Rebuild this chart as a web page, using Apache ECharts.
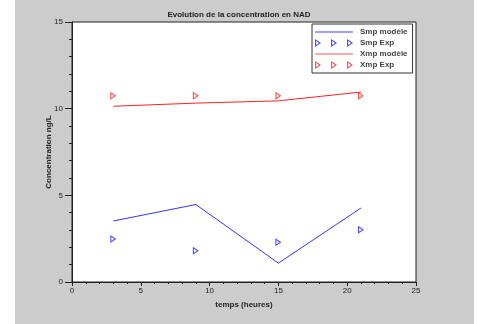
<!DOCTYPE html>
<html><head><meta charset="utf-8">
<script src="https://cdn.jsdelivr.net/npm/echarts@6/dist/echarts.min.js"></script>
<style>html,body{margin:0;padding:0;background:#fff}#c{width:478px;height:324px}</style>
</head><body><div id="c"></div>
<script>
var times = [3, 9, 15, 21];
var smpModele = [3.52, 4.47, 1.09, 4.27];
var smpExp = [2.48, 1.80, 2.29, 3.02];
var xmpModele = [10.14, 10.32, 10.45, 10.96];
var xmpExp = [10.74, 10.74, 10.74, 10.74];
var xTicks = [0, 5, 10, 15, 20, 25];
var yTicks = [0, 5, 10, 15];

function pairs(xs, ys){ return xs.map(function(x,i){ return [x, ys[i]]; }); }

var triPath = 'path://M0,0L6,4L0,8ZM1.1,2L1.1,6L4,4Z';
var tri3Path = 'path://M0,0L6,4L0,8ZM1.1,2L1.1,6L4,4Z' +
  'M16,0L22,4L16,8ZM17.1,2L17.1,6L20,4Z' +
  'M32,0L38,4L32,8ZM33.1,2L33.1,6L36,4Z';
var linePath = 'path://M0,0L38,0L38,1.6L0,1.6Z';
var font = 'Liberation Sans, Arial, sans-serif';
var chart = echarts.init(document.getElementById('c'), null, {renderer:'canvas'});
chart.setOption({
  backgroundColor: '#ffffff',
  animation: false,
  graphic: [{type:'rect', z:-10, silent:true, shape:{x:15,y:0,width:459,height:324}, style:{fill:'#cccccc'}}],
  title: {text:'Evolution de la concentration en NAD', left:'center', top:6,
    textStyle:{fontFamily:font, fontSize:8, fontWeight:'bold', color:'#222'}},
  grid: {left:72, right:62, top:22, bottom:42, show:true, backgroundColor:'#ffffff', borderColor:'#222', borderWidth:1},
  legend: {
    orient:'vertical', left:312, top:24, padding:[4,5,4,3], itemGap:3,
    itemWidth:38, itemHeight:8, backgroundColor:'#fff', borderColor:'#333', borderWidth:1,
    textStyle:{fontFamily:font, fontSize:8, fontWeight:'bold', color:'#444', padding:[0,0,0,2]},
    data:[
      {name:'Smp modèle', icon: linePath, itemStyle:{color:'#8080ff'}},
      {name:'Smp Exp', icon: tri3Path},
      {name:'Xmp modèle', icon: linePath, itemStyle:{color:'#ff9090'}},
      {name:'Xmp Exp', icon: tri3Path}
    ]
  },
  xAxis: {type:'value', min:xTicks[0], max:xTicks[xTicks.length-1], interval:5,
    name:'temps (heures)', nameLocation:'middle', nameGap:19, nameMoveOverlap:false,
    nameTextStyle:{fontFamily:font, fontSize:8, fontWeight:'bold', color:'#222'},
    axisLine:{lineStyle:{color:'#222'}}, axisTick:{length:4, lineStyle:{color:'#222'}},
    minorTick:{show:true, splitNumber:5, length:2, lineStyle:{color:'#222'}},
    splitLine:{show:false},
    axisLabel:{fontFamily:font, fontSize:8, color:'#222', margin:5}},
  yAxis: {type:'value', min:yTicks[0], max:yTicks[yTicks.length-1], interval:5,
    name:'Concentration ng/L', nameLocation:'middle', nameGap:19, nameMoveOverlap:false,
    nameTextStyle:{fontFamily:font, fontSize:8, fontWeight:'bold', color:'#222'},
    axisLine:{show:true, lineStyle:{color:'#222'}}, axisTick:{show:true, length:7, lineStyle:{color:'#222'}},
    minorTick:{show:true, splitNumber:5, length:3, lineStyle:{color:'#222'}},
    splitLine:{show:false},
    axisLabel:{fontFamily:font, fontSize:8, color:'#222', margin:9}},
  series: [
    {name:'Smp modèle', type:'line', data:pairs(times, smpModele), symbol:'none',
      lineStyle:{color:'#3333ff', width:1}, itemStyle:{color:'#8080ff'}},
    {name:'Smp Exp', type:'scatter', data:pairs(times, smpExp), symbol:triPath, symbolSize:[6,8],
      itemStyle:{color:'#2222ff'}},
    {name:'Xmp modèle', type:'line', data:pairs(times, xmpModele), symbol:'none',
      lineStyle:{color:'#ff2222', width:1}, itemStyle:{color:'#ff9090'}},
    {name:'Xmp Exp', type:'scatter', data:pairs(times, xmpExp), symbol:triPath, symbolSize:[6,8],
      itemStyle:{color:'#ff2222'}}
  ]
});
</script></body></html>
